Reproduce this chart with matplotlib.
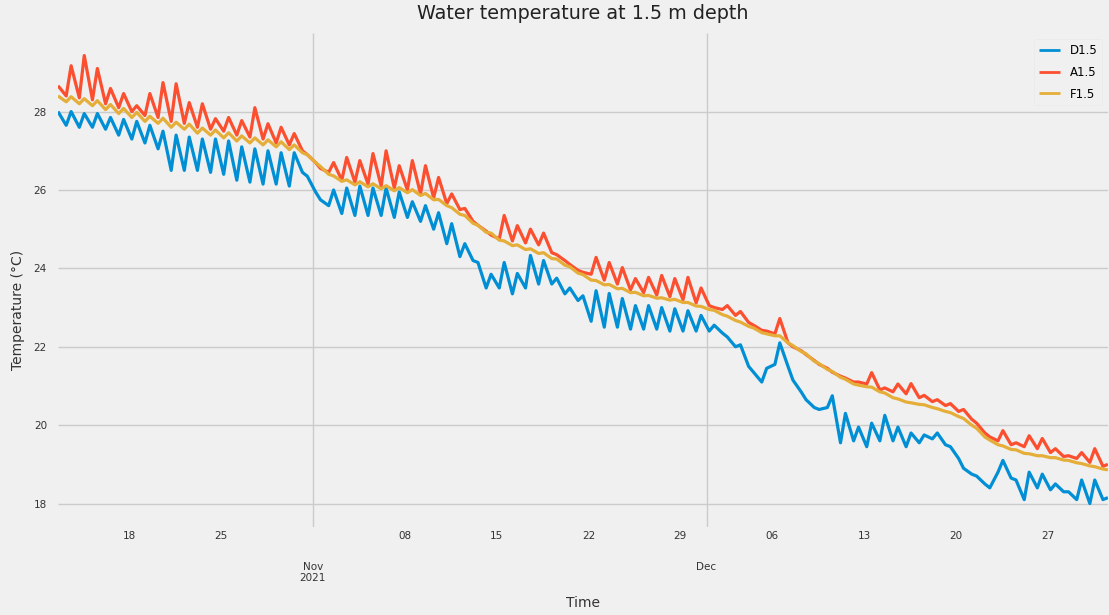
import matplotlib
matplotlib.use("Agg")
import matplotlib.pyplot as plt
import matplotlib.dates as mdates
from matplotlib.ticker import FixedLocator, FixedFormatter
import pandas as pd

plt.style.use("fivethirtyeight")

# Daily maxima (around 14:00) from 12 Oct to 31 Dec 2021, and daily minima
# (around 05:00) from 13 Oct to 31 Dec 2021, water temperature in degC.
d15_max = [28.00, 28.00, 27.95, 27.95, 27.85, 27.80, 27.75, 27.65, 27.50, 27.40,
           27.35, 27.30, 27.30, 27.25, 27.10, 27.05, 27.00, 26.95, 26.95, 26.35,
           25.75, 26.00, 26.05, 26.10, 26.05, 26.05, 25.95, 25.70, 25.60, 25.42,
           25.14, 24.63, 24.15, 23.85, 24.15, 23.87, 24.33, 24.20, 23.75, 23.50,
           23.30, 23.43, 23.36, 23.23, 23.05, 23.05, 23.00, 22.97, 22.92, 22.80,
           22.55, 22.25, 22.05, 21.35, 21.45, 22.10, 21.15, 20.65, 20.40, 20.75,
           20.30, 19.95, 20.05, 20.25, 19.95, 19.80, 19.75, 19.80, 19.45, 18.90,
           18.70, 18.40, 19.10, 18.60, 18.80, 18.75, 18.50, 18.30, 18.60, 18.60,
           18.15]
d15_min = [27.65, 27.60, 27.60, 27.55, 27.40, 27.30, 27.20, 27.05, 26.50, 26.50,
           26.50, 26.45, 26.40, 26.25, 26.20, 26.15, 26.15, 26.10, 26.45, 25.95,
           25.60, 25.40, 25.35, 25.35, 25.35, 25.30, 25.30, 25.20, 25.00, 24.63,
           24.30, 24.20, 23.50, 23.50, 23.35, 23.50, 23.60, 23.60, 23.35, 23.18,
           22.65, 22.50, 22.50, 22.45, 22.45, 22.45, 22.40, 22.40, 22.40, 22.40,
           22.35, 22.00, 21.50, 21.10, 21.55, 21.50, 20.85, 20.45, 20.45, 19.55,
           19.60, 19.45, 19.60, 19.60, 19.45, 19.55, 19.65, 19.50, 19.15, 18.75,
           18.50, 18.80, 18.65, 18.10, 18.40, 18.35, 18.30, 18.10, 18.00, 18.10]

a15_max = [28.66, 29.17, 29.43, 29.10, 28.59, 28.46, 28.15, 28.46, 28.74, 28.71,
           28.23, 28.20, 27.82, 27.85, 27.77, 28.10, 27.69, 27.60, 27.44, 26.90,
           26.55, 26.70, 26.83, 26.75, 26.93, 27.00, 26.62, 26.75, 26.62, 26.32,
           25.90, 25.53, 25.10, 24.85, 25.35, 25.09, 25.00, 24.90, 24.35, 24.10,
           23.90, 24.28, 24.15, 24.02, 23.74, 23.77, 23.82, 23.74, 23.77, 23.50,
           23.00, 23.05, 22.90, 22.55, 22.40, 22.72, 22.00, 21.80, 21.55, 21.35,
           21.20, 21.10, 21.34, 20.95, 21.05, 21.06, 20.76, 20.65, 20.55, 20.40,
           20.05, 19.70, 19.86, 19.55, 19.73, 19.66, 19.40, 19.22, 19.30, 19.40,
           19.00]
a15_min = [28.40, 28.35, 28.30, 28.20, 28.10, 28.00, 27.90, 27.85, 27.75, 27.70,
           27.60, 27.55, 27.50, 27.40, 27.35, 27.30, 27.20, 27.15, 27.00, 26.70,
           26.45, 26.25, 26.20, 26.15, 26.10, 26.05, 26.00, 25.90, 25.80, 25.65,
           25.50, 25.20, 24.95, 24.75, 24.70, 24.65, 24.60, 24.40, 24.20, 23.95,
           23.85, 23.70, 23.60, 23.45, 23.38, 23.32, 23.28, 23.20, 23.12, 23.05,
           22.95, 22.80, 22.62, 22.42, 22.33, 22.10, 21.90, 21.65, 21.45, 21.25,
           21.10, 21.05, 20.90, 20.85, 20.80, 20.70, 20.60, 20.50, 20.35, 20.15,
           19.80, 19.60, 19.50, 19.45, 19.40, 19.30, 19.20, 19.15, 19.05, 18.95]

f15_max = [28.40, 28.38, 28.33, 28.28, 28.18, 28.08, 27.98, 27.88, 27.83, 27.73,
           27.68, 27.58, 27.53, 27.46, 27.38, 27.33, 27.28, 27.23, 27.15, 26.90,
           26.60, 26.36, 26.26, 26.21, 26.16, 26.11, 26.06, 26.01, 25.91, 25.76,
           25.55, 25.35, 25.10, 24.90, 24.70, 24.60, 24.50, 24.40, 24.24, 24.04,
           23.84, 23.69, 23.59, 23.49, 23.39, 23.31, 23.25, 23.21, 23.13, 23.03,
           22.93, 22.78, 22.63, 22.48, 22.33, 22.28, 22.03, 21.82, 21.57, 21.37,
           21.17, 21.02, 20.97, 20.82, 20.67, 20.57, 20.52, 20.42, 20.32, 20.17,
           19.92, 19.62, 19.47, 19.37, 19.27, 19.22, 19.17, 19.10, 19.02, 18.94,
           18.86]
f15_min = [28.25, 28.20, 28.15, 28.05, 27.95, 27.85, 27.75, 27.70, 27.60, 27.55,
           27.45, 27.40, 27.33, 27.25, 27.20, 27.15, 27.10, 27.03, 26.95, 26.70,
           26.40, 26.22, 26.13, 26.08, 26.03, 25.98, 25.93, 25.86, 25.75, 25.60,
           25.38, 25.15, 24.92, 24.72, 24.58, 24.48, 24.38, 24.25, 24.08, 23.88,
           23.70, 23.58, 23.48, 23.38, 23.30, 23.24, 23.19, 23.13, 23.04, 22.95,
           22.82, 22.67, 22.52, 22.36, 22.28, 22.10, 21.88, 21.63, 21.42, 21.22,
           21.05, 20.98, 20.85, 20.70, 20.59, 20.53, 20.45, 20.35, 20.22, 20.00,
           19.70, 19.50, 19.38, 19.28, 19.22, 19.17, 19.11, 19.04, 18.96, 18.88]

series_labels = ["D1.5", "A1.5", "F1.5"]
series_colors = ["#008fd5", "#fc4f30", "#e5ae38"]
month_ticks = ["2021-11-01", "2021-12-01"]
month_labels = ["Nov\n2021", "Dec"]

max_times = pd.date_range("2021-10-12 14:00", periods=len(d15_max), freq="D")
min_times = pd.date_range("2021-10-13 05:00", periods=len(d15_min), freq="D")


def combine(maxima, minima):
    s = pd.concat([pd.Series(maxima, index=max_times),
                   pd.Series(minima, index=min_times)])
    return s.sort_index()


data = [combine(d15_max, d15_min), combine(a15_max, a15_min),
        combine(f15_max, f15_min)]

fig = plt.figure(figsize=(11.09, 6.15), dpi=100, facecolor="#f0f0f0")
ax = fig.add_axes([0.0523, 0.143, 0.9467, 0.803])
ax.set_facecolor("#f0f0f0")

for s, lab, col in zip(data, series_labels, series_colors):
    ax.plot(s.index, s.values, color=col, lw=2.3, label=lab)

ax.set_xlim(max_times[0], max_times[-1])
ax.set_ylim(17.4, 30.0)
ax.set_yticks([18, 20, 22, 24, 26, 28])

ax.xaxis.set_major_locator(FixedLocator(mdates.date2num(pd.to_datetime(month_ticks))))
ax.xaxis.set_major_formatter(FixedFormatter(month_labels))
ax.xaxis.set_minor_locator(mdates.WeekdayLocator(byweekday=mdates.MO))
ax.xaxis.set_minor_formatter(mdates.DateFormatter("%d"))

ax.tick_params(axis="x", which="minor", length=0, pad=3, labelsize=7.5,
               labelcolor="#333333")
ax.tick_params(axis="x", which="major", length=0, pad=25, labelsize=7.5,
               labelcolor="#333333")
ax.tick_params(axis="y", length=0, pad=8, labelsize=7.5, labelcolor="#333333")

ax.grid(True, which="major", color="#cbcbcb", lw=1.0)
ax.grid(False, which="minor")
for sp in ax.spines.values():
    sp.set_visible(False)

ax.set_title("Water temperature at 1.5 m depth", fontsize=13.8, color="#222222", pad=10)
ax.set_xlabel("Time", fontsize=10, color="#333333")
ax.set_ylabel("Temperature (°C)", fontsize=10, color="#333333")
ax.yaxis.set_label_coords(-0.031, 0.44)
ax.xaxis.set_label_coords(0.5, -0.14)

leg = ax.legend(loc="upper right", fontsize=8.5, frameon=True, handlelength=1.8,
                labelspacing=0.75, borderaxespad=0.5)
leg.get_frame().set_facecolor("#f0f0f0")
leg.get_frame().set_edgecolor("#e8e8e8")
for line in leg.get_lines():
    line.set_linewidth(2.0)

fig.savefig("out.png", dpi=100, facecolor="#f0f0f0")
